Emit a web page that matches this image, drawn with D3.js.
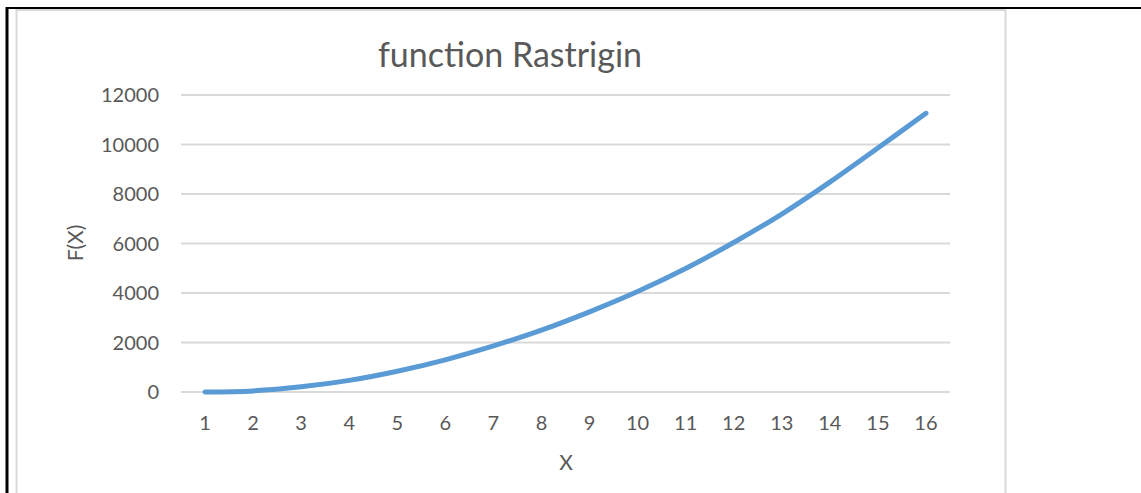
<!DOCTYPE html>
<html>
<head>
<meta charset="utf-8">
<script src="https://cdn.jsdelivr.net/npm/d3@7"></script>
<style>
  body { margin: 0; background: #fff; }
  svg { display: block; }
  text { font-family: Lato, "Open Sans", sans-serif; fill: #595959; }
</style>
</head>
<body>
<div id="chart"></div>
<script>
var xValues = [1, 2, 3, 4, 5, 6, 7, 8, 9, 10, 11, 12, 13, 14, 15, 16]
var fValues = [0, 45, 210, 470, 840, 1300, 1860, 2500, 3240, 4060, 4990, 6040, 7190, 8480, 9860, 11260]
var yTicks = [0, 2000, 4000, 6000, 8000, 10000, 12000]

var chartTitle = "function Rastrigin"
var xTitle = "X"
var yTitle = "F(X)"

var width = 1141, height = 493

var svg = d3.select("#chart").append("svg")
    .attr("width", width)
    .attr("height", height)

// page frame (table border lines)
svg.append("line").attr("x1", 7).attr("x2", 7).attr("y1", 7).attr("y2", height)
    .attr("stroke", "#000").attr("stroke-width", 3)
svg.append("line").attr("x1", 6).attr("x2", width).attr("y1", 8).attr("y2", 8)
    .attr("stroke", "#000").attr("stroke-width", 2)

// chart area border
svg.append("rect")
    .attr("x", 16.5).attr("y", 10)
    .attr("width", 989).attr("height", height)
    .attr("fill", "none").attr("stroke", "#d9d9d9").attr("stroke-width", 2)

var plotLeft = 181, plotRight = 950, plotTop = 95, plotBottom = 392

var x = d3.scalePoint()
    .domain(xValues)
    .range([plotLeft, plotRight])
    .padding(0.5)

var y = d3.scaleLinear()
    .domain([0, 12000])
    .range([plotBottom, plotTop])

// gridlines
svg.append("g").selectAll("line").data(yTicks)
    .enter().append("line")
    .attr("x1", plotLeft).attr("x2", plotRight)
    .attr("y1", function(d) { return y(d) })
    .attr("y2", function(d) { return y(d) })
    .attr("stroke", "#d9d9d9").attr("stroke-width", 2)

// y tick labels
svg.append("g").selectAll("text").data(yTicks)
    .enter().append("text")
    .attr("x", 159)
    .attr("y", function(d) { return y(d) })
    .attr("dy", "0.35em")
    .attr("text-anchor", "end")
    .style("font-size", "20px")
    .text(function(d) { return d })

// x tick labels
svg.append("g").selectAll("text").data(xValues)
    .enter().append("text")
    .attr("x", function(d) { return x(d) })
    .attr("y", 423)
    .attr("dy", "0.35em")
    .attr("text-anchor", "middle")
    .style("font-size", "20px")
    .text(function(d) { return d })

// line
var line = d3.line()
    .curve(d3.curveCatmullRom)
    .x(function(d, i) { return x(xValues[i]) })
    .y(function(d) { return y(d) })

svg.append("path")
    .datum(fValues)
    .attr("d", line)
    .attr("fill", "none")
    .attr("stroke", "#5b9bd5")
    .attr("stroke-width", 5)
    .attr("stroke-linecap", "round")
    .attr("stroke-linejoin", "round")

// titles
svg.append("text")
    .attr("x", 510).attr("y", 55)
    .attr("dy", "0.35em")
    .attr("text-anchor", "middle")
    .style("font-size", "34px")
    .text(chartTitle)

svg.append("text")
    .attr("x", 566).attr("y", 463)
    .attr("dy", "0.35em")
    .attr("text-anchor", "middle")
    .style("font-size", "21px")
    .text(xTitle)

svg.append("text")
    .attr("transform", "translate(76,243) rotate(-90)")
    .attr("dy", "0.35em")
    .attr("text-anchor", "middle")
    .style("font-size", "21px")
    .text(yTitle)
</script>
</body>
</html>
